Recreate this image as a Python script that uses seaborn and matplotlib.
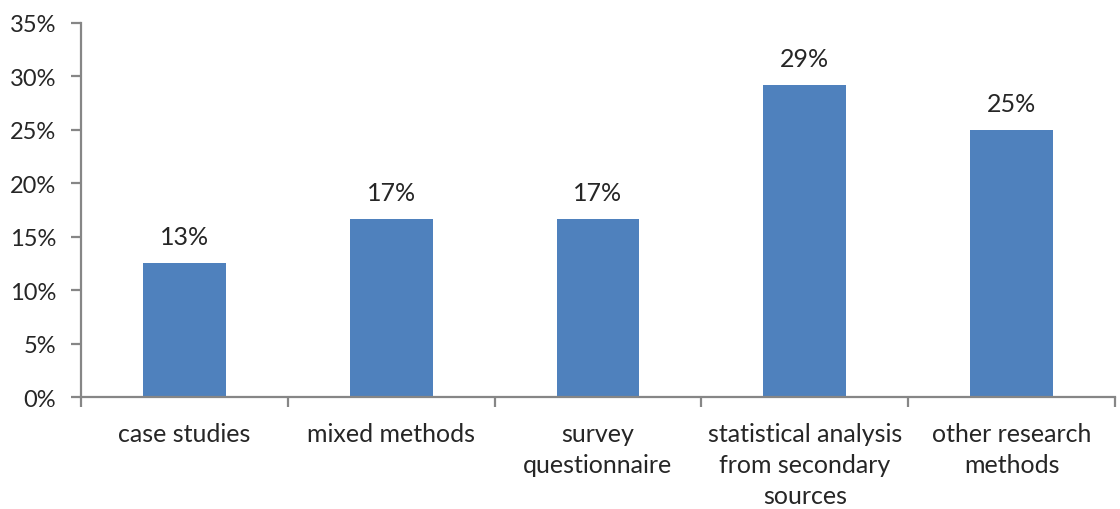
import matplotlib
matplotlib.use("Agg")
import matplotlib.pyplot as plt
import seaborn as sns
import pandas as pd
from matplotlib.ticker import FuncFormatter, FixedLocator

# Share of papers by research method (percent)
methods = [
    "case studies",
    "mixed methods",
    "survey\nquestionnaire",
    "statistical analysis\nfrom secondary\nsources",
    "other research\nmethods",
]
shares = [12.5, 16.7, 16.7, 29.2, 25.0]
y_ticks = [0, 5, 10, 15, 20, 25, 30, 35]

sns.set_theme(style="white")
plt.rcParams["font.family"] = ["Lato", "DejaVu Sans"]

BAR = "#4F81BD"
AXIS = "#868686"
TEXT = "#262626"
FS = 18

df = pd.DataFrame({"method": methods, "share": shares})

fig = plt.figure(figsize=(11.2, 5.1), dpi=100)
ax = fig.add_axes([0.0723, 0.2196, 0.9232, 0.7334])

sns.barplot(data=df, x="method", y="share", color=BAR, width=0.4,
            saturation=1, ax=ax, edgecolor="none")

ax.set_xlim(-0.5, len(methods) - 0.5)
ax.set_ylim(0, 35)
ax.yaxis.set_major_locator(FixedLocator(y_ticks))
ax.yaxis.set_major_formatter(FuncFormatter(lambda v, _: f"{v:.0f}%"))

# value labels, rounded half up
for i, v in enumerate(shares):
    ax.text(i, v + 1.4, f"{int(v + 0.5)}%", ha="center", va="bottom",
            fontsize=FS, color=TEXT)

for side in ("top", "right"):
    ax.spines[side].set_visible(False)
for side in ("left", "bottom"):
    ax.spines[side].set_color(AXIS)
    ax.spines[side].set_linewidth(1.6)

ax.set_xlabel("")
ax.set_ylabel("")
ax.tick_params(axis="y", which="major", direction="out", length=7, width=1.6,
               color=AXIS, labelsize=17, labelcolor=TEXT, pad=11, left=True)
ax.tick_params(axis="x", which="major", length=0, labelsize=FS,
               labelcolor=TEXT, pad=18)
ax.xaxis.set_minor_locator(FixedLocator([i - 0.5 for i in range(len(methods) + 1)]))
ax.tick_params(axis="x", which="minor", direction="out", length=7, width=1.6,
               color=AXIS, bottom=True)
for lbl in ax.get_xticklabels():
    lbl.set_linespacing(1.42)
    lbl.set_va("top")

fig.savefig("out.png", dpi=100, facecolor="white")
